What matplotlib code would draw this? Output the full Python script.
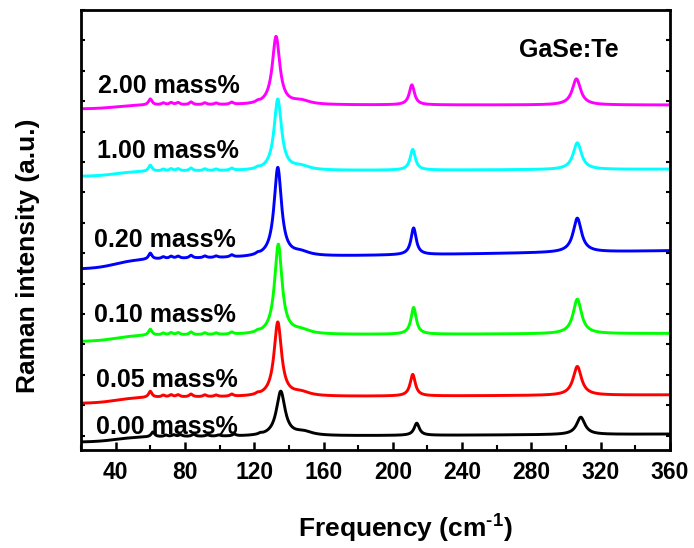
import numpy as np
import matplotlib
matplotlib.use("Agg")
import matplotlib.pyplot as plt
from matplotlib.ticker import MultipleLocator, FixedLocator, NullFormatter

plt.rcParams['font.family'] = ['Liberation Sans', 'DejaVu Sans']
plt.rcParams['font.weight'] = 'bold'
plt.rcParams['mathtext.fontset'] = 'custom'
plt.rcParams['mathtext.rm'] = 'Liberation Sans:bold'
plt.rcParams['mathtext.bf'] = 'Liberation Sans:bold'

# Te content of each spectrum, bottom to top
labels = ['0.00 mass%', '0.05 mass%', '0.10 mass%', '0.20 mass%', '1.00 mass%', '2.00 mass%']
colors = ['black', '#ff0000', '#00ff00', '#0000ff', '#00ffff', '#ff00ff']

# vertical offset (plateau level near 100 cm-1), low-frequency edge drop, baseline tilt
plateau = [-0.03, 1.269, 3.309, 5.842, 8.704, 10.875]
edge_drop = [0.16, 0.19, 0.20, 0.29, 0.16, 0.13]
tilt = [0.08, 0.07, 0.05, 0.24, 0.06, 0.00]

# A1g(1) mode ~134 cm-1
main_pos = [135.3, 133.6, 133.9, 133.6, 133.6, 132.6]
main_height = [1.46, 2.44, 2.96, 2.93, 2.34, 2.24]
main_hwhm = [3.0, 2.6, 2.6, 2.6, 2.6, 2.6]
# E(2) mode ~212 cm-1
mid_pos = [213.8, 211.5, 212.0, 212.0, 211.5, 211.0]
mid_height = [0.40, 0.71, 0.88, 0.88, 0.68, 0.66]
# A1g(2) mode ~307 cm-1
high_pos = [308.5, 306.5, 306.5, 306.5, 306.5, 306.0]
high_height = [0.57, 0.95, 1.14, 1.12, 0.88, 0.86]

# weak low-frequency features shared by all spectra
weak_pos = [60.0, 67.5, 72.0, 76.0, 83.5, 91.5, 98.0, 107.0, 122.0]
weak_height = [0.20, 0.06, 0.07, 0.07, 0.09, 0.06, 0.05, 0.07, 0.04]
# broad shoulder on the high side of the 134 cm-1 mode
shoulder_pos = 147.0
shoulder_height = 0.12

# label placement (left edge, baseline)
label_x = [28.5, 28.5, 27.5, 27.5, 29.0, 30.0]
label_y = [0.04, 1.61, 3.75, 6.19, 9.12, 11.28]


def lorentz(x, x0, h, g):
    return h / (1.0 + ((x - x0) / g) ** 2)


freq = np.linspace(20, 360, 3000)

fig = plt.figure(figsize=(6.94, 5.48), dpi=100)
ax = fig.add_axes([81 / 694, 1 - 450 / 548, 589 / 694, 440 / 548])

for i in range(len(labels)):
    shift = 1.5 if i == 0 else 0.0
    y = plateau[i] + tilt[i] * (freq - 100) / 260
    y = y - edge_drop[i] * (1 - 0.5 * (1 + np.tanh((freq - 40) / 12)))
    y = y + lorentz(freq, main_pos[i], main_height[i], main_hwhm[i])
    y = y + lorentz(freq, mid_pos[i], mid_height[i], 1.8)
    y = y + lorentz(freq, high_pos[i], high_height[i], 2.9)
    y = y + lorentz(freq, shoulder_pos + shift, shoulder_height, 6.0)
    scale = 0.8 if i == 0 else 1.0
    for p, h in zip(weak_pos, weak_height):
        y = y + lorentz(freq, p + shift, h * scale, 1.2)
    ax.plot(freq, y, color=colors[i], lw=2.1, solid_capstyle='round')
    ax.text(label_x[i], label_y[i], labels[i], fontsize=18, fontweight='bold',
            ha='left', va='baseline', color='black')

ax.text(273, 12.44, 'GaSe:Te', fontsize=18, fontweight='bold', ha='left', va='baseline')

ax.set_xlim(20, 360)
ax.set_ylim(-0.474, 14)

ax.xaxis.set_major_locator(MultipleLocator(40))
ax.xaxis.set_minor_locator(MultipleLocator(20))
ax.yaxis.set_major_locator(FixedLocator(list(range(0, 15))))
ax.yaxis.set_major_formatter(NullFormatter())

ax.tick_params(axis='x', which='major', direction='in', length=6, width=1.8,
               labelsize=16.5, pad=8, top=False)
ax.tick_params(axis='x', which='minor', direction='in', length=3.5, width=1.5, top=False)
ax.tick_params(axis='y', which='major', direction='in', length=3, width=1.5,
               left=True, right=True)
for lab in ax.get_xticklabels():
    lab.set_fontweight('bold')

for s in ax.spines.values():
    s.set_linewidth(2.0)

ax.set_xlabel(r'Frequency (cm$^{\text{-1}}$)', fontsize=19, fontweight='bold')
ax.xaxis.set_label_coords((405 - 81) / 589, (450 - 537) / 440)
ax.xaxis.label.set_va('baseline')

ax.set_ylabel('Raman intensity (a.u.)', fontsize=19, fontweight='bold')
ax.yaxis.set_label_coords((40 - 81) / 589, (450 - 256) / 440)

fig.savefig('out.png', dpi=100)
